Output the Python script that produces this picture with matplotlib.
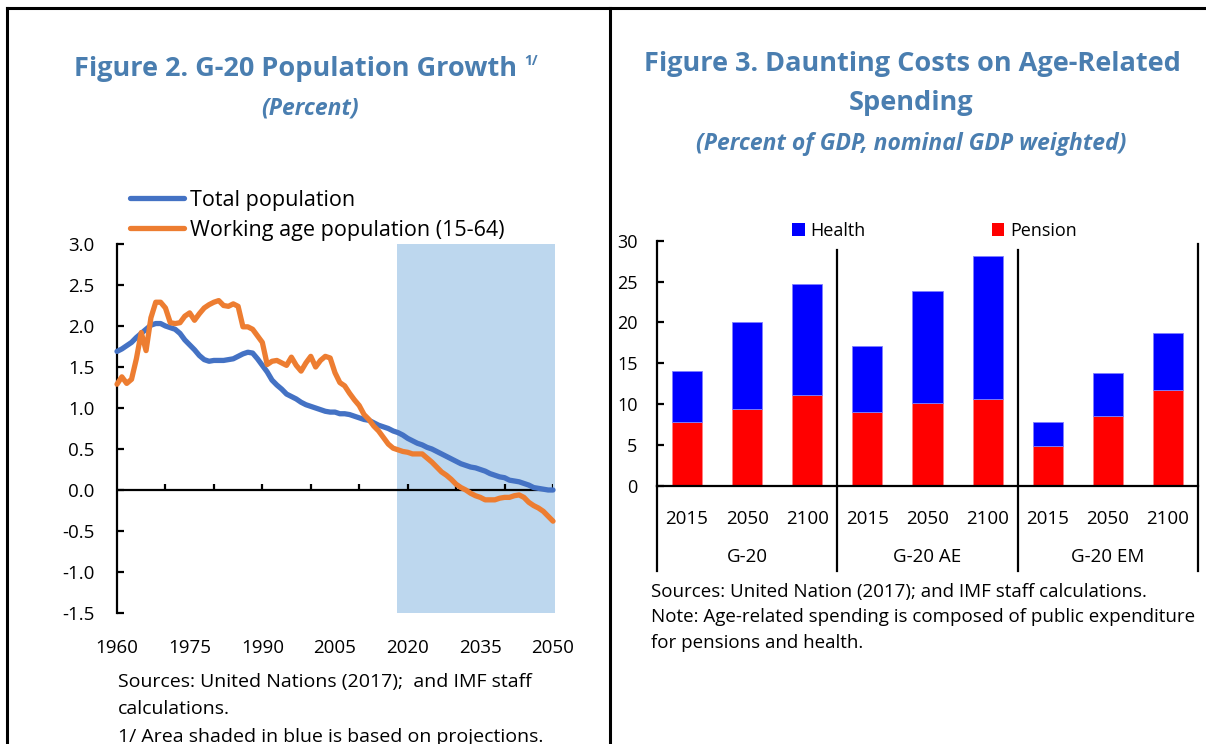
import numpy as np
import matplotlib
matplotlib.use("Agg")
import matplotlib.pyplot as plt
from matplotlib.lines import Line2D
from matplotlib.patches import Patch

plt.rcParams['font.family'] = ['Open Sans', 'DejaVu Sans']

W, H = 1206, 744
TITLE_COLOR = '#4a7eb0'

# ---- Figure 2: G-20 population growth (percent) ----
years = np.arange(1960, 2051)
total_pop = [
    1.69, 1.72, 1.76, 1.80, 1.86, 1.91, 1.96, 2.01, 2.03, 2.03,
    2.00, 1.98, 1.96, 1.91, 1.83, 1.77, 1.71, 1.64, 1.59, 1.57,
    1.58, 1.58, 1.58, 1.59, 1.60, 1.63, 1.66, 1.68, 1.67, 1.60,
    1.52, 1.44, 1.34, 1.28, 1.23, 1.17, 1.14, 1.11, 1.07, 1.04,
    1.02, 1.00, 0.98, 0.96, 0.95, 0.95, 0.93, 0.93, 0.92, 0.90,
    0.88, 0.86, 0.85, 0.82, 0.79, 0.77, 0.75, 0.72, 0.70, 0.67,
    0.63, 0.60, 0.57, 0.55, 0.52, 0.50, 0.47, 0.44, 0.41, 0.38,
    0.35, 0.32, 0.30, 0.28, 0.27, 0.25, 0.23, 0.20, 0.18, 0.16,
    0.15, 0.12, 0.11, 0.10, 0.08, 0.06, 0.03, 0.02, 0.01, 0.00,
    0.00,
]
working_pop = [
    1.29, 1.38, 1.30, 1.35, 1.60, 1.92, 1.70, 2.10, 2.29, 2.29,
    2.22, 2.04, 2.03, 2.04, 2.12, 2.16, 2.07, 2.15, 2.22, 2.26,
    2.29, 2.31, 2.25, 2.24, 2.27, 2.24, 1.99, 1.99, 1.96, 1.88,
    1.80, 1.53, 1.57, 1.58, 1.55, 1.52, 1.62, 1.52, 1.45, 1.55,
    1.63, 1.50, 1.58, 1.63, 1.61, 1.43, 1.31, 1.27, 1.18, 1.10,
    1.03, 0.92, 0.86, 0.78, 0.72, 0.64, 0.56, 0.51, 0.49, 0.47,
    0.46, 0.44, 0.44, 0.44, 0.39, 0.34, 0.28, 0.22, 0.18, 0.13,
    0.07, 0.03, 0.00, -0.04, -0.07, -0.09, -0.12, -0.12, -0.12, -0.10,
    -0.09, -0.09, -0.07, -0.06, -0.09, -0.15, -0.19, -0.22, -0.26, -0.32,
    -0.38,
]
proj_start, proj_end = 2017.8, 2050.4
year_labels = [1960, 1975, 1990, 2005, 2020, 2035, 2050]

# ---- Figure 3: age-related spending (percent of GDP) ----
groups = ['G-20', 'G-20 AE', 'G-20 EM']
periods = ['2015', '2050', '2100']
pension = [7.8, 9.4, 11.1, 9.0, 10.1, 10.6, 4.9, 8.5, 11.7]
health = [6.3, 10.7, 13.6, 8.1, 13.7, 17.5, 2.9, 5.3, 7.0]


def px_box(x0, y0, x1, y1):
    return [x0 / W, 1 - y1 / H, (x1 - x0) / W, (y1 - y0) / H]


def fx(x):
    return x / W


def fy(y):
    return 1 - y / H


fig = plt.figure(figsize=(W / 100, H / 100), dpi=100)

# frame lines
fig.add_artist(Line2D([fx(7), fx(7)], [fy(8), 0], color='black', lw=2.2))
fig.add_artist(Line2D([fx(7), 1], [fy(8), fy(8)], color='black', lw=2.2))
fig.add_artist(Line2D([fx(610), fx(610)], [fy(8), 0], color='black', lw=2.2))

# ---------------- left chart ----------------
ax1 = fig.add_axes(px_box(117, 244, 553, 613))
ax1.set_xlim(1960, 2050)
ax1.set_ylim(-1.5, 3.0)
ax1.axvspan(proj_start, proj_end, color='#bdd7ee', lw=0, clip_on=False, zorder=0)
ax1.axhline(0, color='black', lw=1.6, zorder=1)
ax1.vlines(np.arange(1970, 2051, 10), 0, 0.07, color='black', lw=1.6, zorder=1)
l_tot, = ax1.plot(years, total_pop, color='#4472c4', lw=3.8, solid_capstyle='round',
                  solid_joinstyle='round', clip_on=False, zorder=3)
l_wrk, = ax1.plot(years, working_pop, color='#ed7d31', lw=3.8, solid_capstyle='round',
                  solid_joinstyle='round', clip_on=False, zorder=4)
for s in ['top', 'right', 'bottom']:
    ax1.spines[s].set_visible(False)
ax1.spines['left'].set_linewidth(1.6)
ax1.set_yticks(np.arange(-1.5, 3.01, 0.5))
ax1.set_yticklabels([f'{v:.1f}' for v in np.arange(-1.5, 3.01, 0.5)])
ax1.tick_params(axis='y', direction='in', length=5, width=1.6, pad=16, labelsize=13.5)
ax1.set_xticks(year_labels)
ax1.set_xticklabels([str(y) for y in year_labels])
ax1.tick_params(axis='x', length=0, pad=19, labelsize=13.5)

fig.legend([l_tot, l_wrk], ['Total population', 'Working age population (15-64)'],
           loc='upper left', bbox_to_anchor=(fx(130), fy(190)), frameon=False,
           fontsize=15.5, handlelength=2.5, handletextpad=0.3, labelspacing=0.4,
           borderpad=0, borderaxespad=0)

t1 = fig.text(fx(296), fy(69), 'Figure 2. G-20 Population Growth', ha='center', va='center',
              fontsize=19.5, fontweight='bold', color=TITLE_COLOR)
fig.text(fx(310), fy(108), '(Percent)', ha='center', va='center', fontsize=16.5,
         fontweight='bold', fontstyle='italic', color=TITLE_COLOR)

fig.canvas.draw()
bb = t1.get_window_extent(fig.canvas.get_renderer())
fig.text(bb.x1 / W + fx(7), fy(68), '1/', ha='left', va='bottom', fontsize=10,
         fontweight='bold', color=TITLE_COLOR)

fig.text(fx(118), fy(682), 'Sources: United Nations (2017);  and IMF staff', ha='left',
         va='center', fontsize=14)
fig.text(fx(118), fy(709), 'calculations.', ha='left', va='center', fontsize=14)
fig.text(fx(118), fy(737), '1/ Area shaded in blue is based on projections.', ha='left',
         va='center', fontsize=14)

# ---------------- right chart ----------------
ax2 = fig.add_axes(px_box(657, 240.7, 1198, 486))
x = np.arange(len(pension))
ax2.bar(x, pension, width=0.5, color='#ff0000', edgecolor='#ff8080', lw=0.6, label='Pension')
ax2.bar(x, health, bottom=pension, width=0.5, color='#0000ff', edgecolor='#8080ff', lw=0.6,
        label='Health')
ax2.set_xlim(-0.5, len(pension) - 0.5)
ax2.set_ylim(0, 30)
for s in ['top', 'right']:
    ax2.spines[s].set_visible(False)
ax2.spines['left'].set_linewidth(1.6)
ax2.spines['bottom'].set_linewidth(1.6)
ax2.set_yticks(np.arange(0, 31, 5))
ax2.tick_params(axis='y', direction='in', length=5, width=1.6, pad=14, labelsize=13)
ax2.set_xticks(x)
ax2.set_xticklabels(periods * len(groups))
ax2.tick_params(axis='x', length=0, pad=17.5, labelsize=13.5)

trans = ax2.get_xaxis_transform()
ax2.plot([-0.5, -0.5], [0, -0.348], color='black', lw=1.6, transform=trans, clip_on=False)
for i, g in enumerate(groups):
    ax2.text(3 * i + 1, -0.29, g, transform=trans, ha='center', va='center', fontsize=13.5)
    right = 3 * i + 2.5
    top = 0.962 if i < 2 else 0.985
    ax2.plot([right, right], [top, -0.348], color='black', lw=1.6, transform=trans,
             clip_on=False)

hh = [Patch(facecolor='#0000ff'), Patch(facecolor='#ff0000')]
fig.legend(hh, ['Health', 'Pension'], loc='center left', bbox_to_anchor=(fx(792), fy(231)),
           ncol=2, frameon=False, fontsize=13, handlelength=0.7, handleheight=0.7,
           handletextpad=0.3, columnspacing=7.0, borderpad=0, borderaxespad=0)

fig.text(fx(912), fy(64), 'Figure 3. Daunting Costs on Age-Related', ha='center', va='center',
         fontsize=19.5, fontweight='bold', color=TITLE_COLOR)
fig.text(fx(911), fy(103), 'Spending', ha='center', va='center', fontsize=19.5,
         fontweight='bold', color=TITLE_COLOR)
fig.text(fx(911), fy(144), '(Percent of GDP, nominal GDP weighted)', ha='center', va='center',
         fontsize=16.5, fontweight='bold', fontstyle='italic', color=TITLE_COLOR)

fig.text(fx(651), fy(592), 'Sources: United Nation (2017); and IMF staff calculations.',
         ha='left', va='center', fontsize=13.5)
fig.text(fx(651), fy(617), 'Note: Age-related spending is composed of public expenditure',
         ha='left', va='center', fontsize=13.5)
fig.text(fx(651), fy(643), 'for pensions and health.', ha='left', va='center', fontsize=13.5)

fig.savefig('out.png', dpi=100, facecolor='white')
